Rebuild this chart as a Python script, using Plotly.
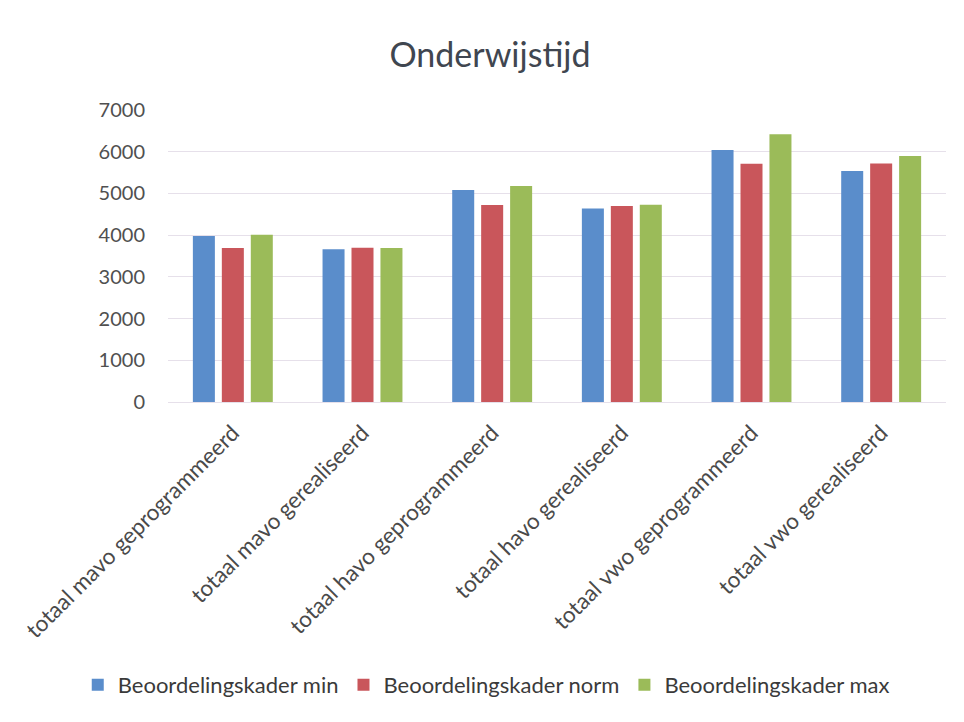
import plotly.graph_objects as go

categories = [
    "totaal mavo geprogrammeerd",
    "totaal mavo gerealiseerd",
    "totaal havo geprogrammeerd",
    "totaal havo gerealiseerd",
    "totaal vwo geprogrammeerd",
    "totaal vwo gerealiseerd",
]
kader_min = [3980, 3660, 5080, 4640, 6040, 5540]
kader_norm = [3690, 3700, 4720, 4700, 5710, 5720]
kader_max = [4010, 3690, 5180, 4730, 6420, 5900]
y_ticks = [0, 1000, 2000, 3000, 4000, 5000, 6000, 7000]

series = [
    ("Beoordelingskader min", kader_min, "#5A8DCB"),
    ("Beoordelingskader norm", kader_norm, "#C9565B"),
    ("Beoordelingskader max", kader_max, "#9BBB59"),
]

FONT = "Lato"
fig = go.Figure()
for name, vals, col in series:
    fig.add_trace(go.Bar(x=categories, y=vals, name=name, marker=dict(color=col, line=dict(width=0))))

fig.update_layout(
    width=964, height=722,
    paper_bgcolor="white", plot_bgcolor="white",
    font=dict(family=FONT, color="#4a4a4a"),
    title=dict(text="Onderwijstijd", x=0.5, xanchor="center", y=0.935, yanchor="middle",
               font=dict(size=34, color="#404650", family=FONT)),
    margin=dict(l=158, r=26, t=102, b=328),
    barmode="group", bargap=0.33, bargroupgap=0.24,
    showlegend=True,
    legend=dict(orientation="h", x=-0.116, xanchor="left",
                y=-0.969, yanchor="middle",
                font=dict(size=22, color="#3a3a3a", family=FONT), itemwidth=30,
                traceorder="normal"),
)
fig.update_yaxes(range=[0, 7000], tickvals=y_ticks, showgrid=True, gridcolor="#e6e0ea",
                 zeroline=False, showline=False, tickfont=dict(size=20, color="#505050"),
                 ticklabelstandoff=22)
fig.update_xaxes(tickangle=-45, tickfont=dict(size=22.5, color="#4a4a4a"), showline=True,
                 linecolor="#e6e0ea", ticks="", ticklabelstandoff=8)
fig.write_html("out.html")
